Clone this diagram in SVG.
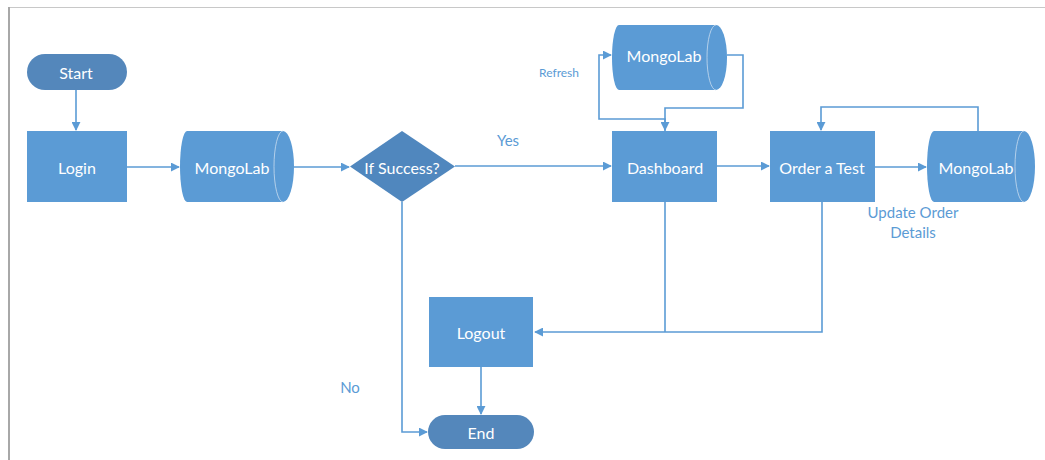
<svg xmlns="http://www.w3.org/2000/svg" width="1045" height="460" viewBox="0 0 1045 460">
<defs>
<marker id="ah" viewBox="0 0 10 10" refX="9" refY="5" markerWidth="9" markerHeight="9" markerUnits="userSpaceOnUse" orient="auto">
<path d="M0,0 L10,5 L0,10 Z" fill="#5b9bd5"/>
</marker>
<style>
.proc{fill:#5b9bd5;}
.term{fill:#5487bb;}
.dec{fill:#5087be;}
.inner{fill:none;stroke:#c9dcef;stroke-width:0.8;}
.t{font-family:Lato,"Open Sans","Liberation Sans",sans-serif;font-size:16px;fill:#ffffff;text-anchor:middle;dominant-baseline:central;}
.lbl{font-family:Lato,"Open Sans","Liberation Sans",sans-serif;fill:#5b9bd5;text-anchor:middle;dominant-baseline:central;}
.c{fill:none;stroke:#5b9bd5;stroke-width:1.6;}
</style>
</defs>
<rect x="0" y="0" width="1045" height="460" fill="#ffffff"/>
<g id="frame">
<line x1="9" y1="7.5" x2="1045" y2="7.5" stroke="#c8c8c8" stroke-width="1.2"/>
<line x1="9" y1="7" x2="9" y2="460" stroke="#a8a8a8" stroke-width="2"/>
</g>
<g id="connectors">
<path class="c" d="M76,90 V130" marker-end="url(#ah)"/>
<path class="c" d="M127,167 H179" marker-end="url(#ah)"/>
<path class="c" d="M294,167 H349" marker-end="url(#ah)"/>
<path class="c" d="M455,166 H611" marker-end="url(#ah)"/>
<path class="c" d="M665,131 V119 H599 V55 H611" marker-end="url(#ah)"/>
<path class="c" d="M727,55 H743 V108 H665 V130" marker-end="url(#ah)"/>
<path class="c" d="M717,166 H769" marker-end="url(#ah)"/>
<path class="c" d="M875,167 H926" marker-end="url(#ah)"/>
<path class="c" d="M978,131 V107 H821 V130" marker-end="url(#ah)"/>
<path class="c" d="M665,202 V332"/>
<path class="c" d="M822,202 V332 H535" marker-end="url(#ah)"/>
<path class="c" d="M481,367 V414" marker-end="url(#ah)"/>
<path class="c" d="M402,202 V432 H427" marker-end="url(#ah)"/>
</g>
<g id="labels">
<text class="lbl" x="508" y="140" font-size="15">Yes</text>
<text class="lbl" x="350" y="387" font-size="15">No</text>
<text class="lbl" x="559" y="72" font-size="12">Refresh</text>
<text class="lbl" x="913" y="212" font-size="15">Update Order</text>
<text class="lbl" x="913" y="232" font-size="15">Details</text>
</g>
<g id="start">
<rect class="term" x="27" y="54" width="100" height="36" rx="18"/>
<text class="t" x="76" y="72">Start</text>
</g>
<g id="login">
<rect class="proc" x="27" y="131" width="100" height="71"/>
<text class="t" x="77" y="167">Login</text>
</g>
<g id="mongolab1">
<path class="proc" d="M187,131 H283 A11,35.5 0 0 1 283,202 H187 A7,35.5 0 0 1 187,131 Z"/>
<path class="inner" d="M283,131 A9,35.5 0 0 0 283,202"/>
<text class="t" x="232" y="167">MongoLab</text>
</g>
<g id="decision">
<path class="dec" d="M402,131 L455,166.5 L402,202 L350,166.5 Z"/>
<text class="t" x="402" y="167">If Success?</text>
</g>
<g id="dashboard">
<rect class="proc" x="612" y="131" width="105" height="71"/>
<text class="t" x="665" y="167">Dashboard</text>
</g>
<g id="mongolab2">
<path class="proc" d="M619,25 H716 A11,32.5 0 0 1 716,90 H619 A7,32.5 0 0 1 619,25 Z"/>
<path class="inner" d="M716,25 A9,32.5 0 0 0 716,90"/>
<text class="t" x="664" y="55">MongoLab</text>
</g>
<g id="order">
<rect class="proc" x="770" y="131" width="105" height="71"/>
<text class="t" x="822" y="167">Order a Test</text>
</g>
<g id="mongolab3">
<path class="proc" d="M934,131 H1024 A11,35.5 0 0 1 1024,202 H934 A7,35.5 0 0 1 934,131 Z"/>
<path class="inner" d="M1024,131 A9,35.5 0 0 0 1024,202"/>
<text class="t" x="976" y="167">MongoLab</text>
</g>
<g id="logout">
<rect class="proc" x="429" y="297" width="104" height="70"/>
<text class="t" x="481" y="332">Logout</text>
</g>
<g id="end">
<rect class="term" x="428" y="415" width="106" height="34" rx="17"/>
<text class="t" x="481" y="432">End</text>
</g>
</svg>
